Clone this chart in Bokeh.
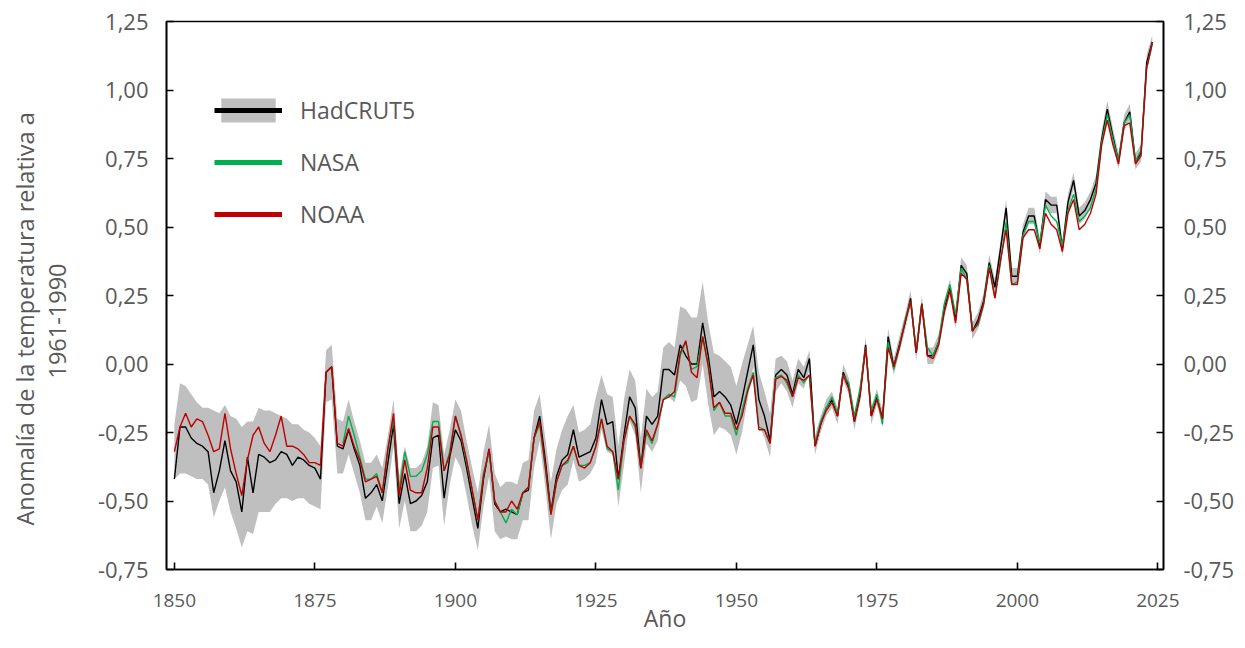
from bokeh.plotting import figure
from bokeh.models import (ColumnDataSource, Range1d, LinearAxis, FixedTicker,
                          CustomJSTickFormatter, Legend, LegendItem, Title)
from bokeh.embed import file_html
from bokeh.resources import INLINE

years = list(range(1850, 2025))

hadcrut5 = [
    -0.42, -0.23, -0.23, -0.27, -0.29, -0.30, -0.32, -0.47, -0.39, -0.28,
    -0.39, -0.43, -0.54, -0.34, -0.47, -0.33, -0.34, -0.36, -0.35, -0.32,
    -0.33, -0.37, -0.34, -0.35, -0.37, -0.38, -0.42, -0.03, -0.01, -0.30,
    -0.31, -0.24, -0.31, -0.37, -0.49, -0.47, -0.44, -0.50, -0.36, -0.22,
    -0.51, -0.40, -0.51, -0.50, -0.48, -0.43, -0.27, -0.26, -0.49, -0.34,
    -0.24, -0.28, -0.38, -0.49, -0.60, -0.42, -0.31, -0.51, -0.54, -0.53,
    -0.54, -0.55, -0.47, -0.46, -0.27, -0.19, -0.35, -0.54, -0.41, -0.35,
    -0.33, -0.24, -0.34, -0.33, -0.32, -0.27, -0.13, -0.22, -0.21, -0.42,
    -0.26, -0.12, -0.16, -0.38, -0.19, -0.22, -0.19, -0.02, -0.02, -0.04,
    0.07, 0.03, 0.00, 0.00, 0.15, 0.03, -0.12, -0.10, -0.12, -0.15,
    -0.22, -0.13, -0.03, 0.07, -0.13, -0.19, -0.28, -0.04, -0.02, -0.04,
    -0.11, -0.02, -0.05, 0.02, -0.30, -0.22, -0.16, -0.13, -0.19, -0.03,
    -0.08, -0.21, -0.11, 0.07, -0.19, -0.12, -0.20, 0.10, -0.01, 0.07,
    0.15, 0.24, 0.04, 0.22, 0.03, 0.03, 0.08, 0.20, 0.28, 0.16,
    0.36, 0.33, 0.12, 0.16, 0.23, 0.37, 0.28, 0.42, 0.57, 0.32,
    0.32, 0.48, 0.54, 0.54, 0.43, 0.60, 0.58, 0.58, 0.42, 0.59,
    0.67, 0.54, 0.56, 0.60, 0.66, 0.82, 0.93, 0.83, 0.74, 0.88,
    0.92, 0.74, 0.77, 1.10, 1.175,
]

hadcrut5_upper = [
    -0.22, -0.07, -0.08, -0.11, -0.14, -0.16, -0.16, -0.17, -0.18, -0.15,
    -0.19, -0.20, -0.23, -0.21, -0.21, -0.16, -0.17, -0.17, -0.18, -0.19,
    -0.20, -0.22, -0.22, -0.24, -0.25, -0.27, -0.30, 0.05, 0.07, -0.20,
    -0.21, -0.13, -0.21, -0.28, -0.36, -0.36, -0.33, -0.38, -0.26, -0.13,
    -0.41, -0.30, -0.38, -0.38, -0.36, -0.30, -0.14, -0.15, -0.33, -0.24,
    -0.13, -0.17, -0.28, -0.38, -0.47, -0.32, -0.22, -0.40, -0.45, -0.43,
    -0.43, -0.44, -0.36, -0.35, -0.17, -0.11, -0.27, -0.43, -0.31, -0.24,
    -0.19, -0.15, -0.25, -0.24, -0.22, -0.12, -0.04, -0.11, -0.12, -0.30,
    -0.13, -0.02, -0.06, -0.27, -0.09, -0.12, -0.10, 0.06, 0.08, 0.06,
    0.21, 0.20, 0.17, 0.17, 0.30, 0.15, 0.04, 0.03, 0.01, -0.01,
    -0.08, 0.00, 0.07, 0.14, -0.03, -0.10, -0.18, 0.02, 0.03, 0.01,
    -0.06, 0.02, -0.01, 0.05, -0.26, -0.19, -0.13, -0.10, -0.16, 0.00,
    -0.05, -0.18, -0.08, 0.10, -0.16, -0.09, -0.17, 0.13, 0.02, 0.10,
    0.18, 0.27, 0.07, 0.25, 0.06, 0.06, 0.11, 0.23, 0.31, 0.19,
    0.39, 0.36, 0.15, 0.19, 0.26, 0.40, 0.31, 0.45, 0.60, 0.35,
    0.35, 0.51, 0.57, 0.57, 0.46, 0.63, 0.61, 0.61, 0.45, 0.62,
    0.70, 0.57, 0.59, 0.63, 0.69, 0.85, 0.96, 0.86, 0.77, 0.91,
    0.95, 0.77, 0.80, 1.13, 1.20,
]

hadcrut5_lower = [
    -0.42, -0.40, -0.40, -0.41, -0.42, -0.42, -0.44, -0.56, -0.50, -0.45,
    -0.54, -0.60, -0.67, -0.61, -0.62, -0.54, -0.54, -0.54, -0.51, -0.49,
    -0.49, -0.50, -0.49, -0.49, -0.51, -0.52, -0.53, -0.14, -0.13, -0.40,
    -0.40, -0.33, -0.40, -0.47, -0.57, -0.57, -0.52, -0.58, -0.45, -0.30,
    -0.60, -0.50, -0.61, -0.61, -0.59, -0.54, -0.38, -0.37, -0.59, -0.44,
    -0.34, -0.38, -0.48, -0.59, -0.68, -0.52, -0.41, -0.61, -0.64, -0.63,
    -0.64, -0.64, -0.57, -0.57, -0.38, -0.28, -0.45, -0.64, -0.51, -0.46,
    -0.44, -0.35, -0.43, -0.42, -0.40, -0.36, -0.24, -0.32, -0.33, -0.52,
    -0.37, -0.21, -0.26, -0.47, -0.29, -0.32, -0.28, -0.13, -0.12, -0.14,
    -0.06, -0.08, -0.14, -0.13, 0.00, -0.15, -0.26, -0.23, -0.24, -0.26,
    -0.33, -0.25, -0.13, -0.01, -0.22, -0.27, -0.34, -0.10, -0.07, -0.10,
    -0.16, -0.07, -0.09, -0.02, -0.33, -0.25, -0.19, -0.16, -0.22, -0.06,
    -0.11, -0.24, -0.14, 0.04, -0.22, -0.15, -0.23, 0.07, -0.04, 0.04,
    0.12, 0.21, 0.01, 0.19, 0.00, 0.00, 0.05, 0.17, 0.25, 0.13,
    0.33, 0.30, 0.09, 0.13, 0.20, 0.34, 0.25, 0.39, 0.54, 0.29,
    0.29, 0.45, 0.51, 0.51, 0.40, 0.57, 0.55, 0.55, 0.39, 0.56,
    0.64, 0.51, 0.53, 0.57, 0.63, 0.79, 0.90, 0.80, 0.71, 0.85,
    0.89, 0.71, 0.74, 1.07, 1.15,
]

nasa_years = list(range(1880, 2025))
nasa = [
    -0.29, -0.19, -0.26, -0.34, -0.42, -0.42, -0.40, -0.47, -0.31, -0.20,
    -0.46, -0.32, -0.41, -0.41, -0.39, -0.33, -0.21, -0.21, -0.39, -0.32,
    -0.19, -0.26, -0.36, -0.46, -0.57, -0.40, -0.32, -0.50, -0.54, -0.58,
    -0.53, -0.55, -0.47, -0.45, -0.27, -0.22, -0.38, -0.55, -0.43, -0.37,
    -0.36, -0.30, -0.37, -0.37, -0.36, -0.30, -0.20, -0.31, -0.32, -0.46,
    -0.28, -0.19, -0.23, -0.38, -0.25, -0.29, -0.22, -0.13, -0.11, -0.12,
    0.03, 0.08, -0.02, -0.01, 0.10, 0.00, -0.17, -0.14, -0.19, -0.19,
    -0.26, -0.17, -0.09, -0.03, -0.23, -0.24, -0.29, -0.05, -0.04, -0.07,
    -0.12, -0.04, -0.07, -0.04, -0.29, -0.21, -0.16, -0.12, -0.18, -0.04,
    -0.07, -0.19, -0.09, 0.06, -0.17, -0.11, -0.22, 0.08, -0.02, 0.06,
    0.16, 0.23, 0.05, 0.22, 0.06, 0.03, 0.08, 0.22, 0.29, 0.18,
    0.35, 0.31, 0.13, 0.14, 0.22, 0.36, 0.24, 0.37, 0.52, 0.29,
    0.30, 0.47, 0.52, 0.52, 0.44, 0.58, 0.54, 0.52, 0.43, 0.56,
    0.62, 0.52, 0.54, 0.57, 0.64, 0.81, 0.91, 0.82, 0.74, 0.88,
    0.91, 0.74, 0.78, 1.08, 1.17,
]

noaa = [
    -0.32, -0.23, -0.18, -0.23, -0.20, -0.21, -0.26, -0.32, -0.31, -0.18,
    -0.31, -0.40, -0.48, -0.35, -0.26, -0.23, -0.29, -0.32, -0.26, -0.19,
    -0.30, -0.30, -0.31, -0.33, -0.36, -0.36, -0.37, -0.03, -0.01, -0.29,
    -0.30, -0.235, -0.30, -0.35, -0.43, -0.42, -0.41, -0.47, -0.31, -0.18,
    -0.48, -0.35, -0.46, -0.47, -0.47, -0.38, -0.23, -0.23, -0.39, -0.33,
    -0.19, -0.26, -0.35, -0.46, -0.57, -0.41, -0.31, -0.50, -0.54, -0.54,
    -0.50, -0.53, -0.47, -0.45, -0.27, -0.21, -0.37, -0.55, -0.43, -0.37,
    -0.35, -0.30, -0.37, -0.38, -0.36, -0.30, -0.20, -0.30, -0.32, -0.42,
    -0.28, -0.19, -0.22, -0.38, -0.24, -0.28, -0.22, -0.13, -0.12, -0.10,
    0.04, 0.085, -0.03, -0.05, 0.10, -0.01, -0.16, -0.14, -0.18, -0.18,
    -0.24, -0.19, -0.10, -0.04, -0.24, -0.24, -0.29, -0.055, -0.045, -0.06,
    -0.12, -0.05, -0.06, -0.04, -0.30, -0.22, -0.17, -0.14, -0.19, -0.04,
    -0.09, -0.21, -0.12, 0.06, -0.19, -0.13, -0.20, 0.06, -0.01, 0.06,
    0.15, 0.23, 0.04, 0.22, 0.03, 0.02, 0.07, 0.19, 0.27, 0.15,
    0.33, 0.31, 0.12, 0.15, 0.22, 0.35, 0.24, 0.38, 0.49, 0.29,
    0.29, 0.46, 0.49, 0.49, 0.42, 0.55, 0.51, 0.49, 0.41, 0.55,
    0.60, 0.49, 0.51, 0.55, 0.62, 0.80, 0.89, 0.80, 0.73, 0.87,
    0.88, 0.73, 0.76, 1.08, 1.17,
]

x_ticks = [1850, 1875, 1900, 1925, 1950, 1975, 2000, 2025]
y_ticks = [-0.75, -0.5, -0.25, 0.0, 0.25, 0.5, 0.75, 1.0, 1.25]

FONT = "Open Sans"
GREY_TXT = "#595959"
BLACK = "#000000"
GREEN = "#00b050"
RED = "#c00000"
BAND = "#bfbfbf"

src = ColumnDataSource(dict(year=years, had=hadcrut5, lo=hadcrut5_lower,
                            hi=hadcrut5_upper, noaa=noaa))
src_nasa = ColumnDataSource(dict(year=nasa_years, nasa=nasa))

p = figure(frame_width=997, frame_height=548, output_backend="svg",
           toolbar_location=None,
           x_range=Range1d(1848.6, 2026.0), y_range=Range1d(-0.75, 1.25),
           min_border_left=166, min_border_right=70, min_border_top=21,
           min_border_bottom=71, x_axis_label="Año")
p.background_fill_color = "white"
p.border_fill_color = "white"
p.outline_line_color = BLACK
p.outline_line_width = 1.6
p.xgrid.visible = False
p.ygrid.visible = False

band = p.varea(x="year", y1="lo", y2="hi", source=src, fill_color=BAND,
               fill_alpha=1.0)
l_had = p.line("year", "had", source=src, line_color=BLACK, line_width=1.4)
l_nasa = p.line("year", "nasa", source=src_nasa, line_color=GREEN, line_width=1.4)
l_noaa = p.line("year", "noaa", source=src, line_color=RED, line_width=1.4)

# legend-only renderers: hidden copies (legend swatches with thick strokes)
lg_band = p.varea(x="year", y1="lo", y2="hi", source=src, fill_color=BAND,
                  visible=False)
lg_had = p.line("year", "had", source=src, line_color=BLACK, line_width=5,
                visible=False)
lg_nasa = p.line("year", "nasa", source=src_nasa, line_color=GREEN,
                 line_width=5, visible=False)
lg_noaa = p.line("year", "noaa", source=src, line_color=RED, line_width=5,
                 visible=False)

legend = Legend(items=[
    LegendItem(label="HadCRUT5", renderers=[lg_band, lg_had]),
    LegendItem(label="NASA", renderers=[lg_nasa]),
    LegendItem(label="NOAA", renderers=[lg_noaa]),
], location=(48, 339))
legend.click_policy = "none"
legend.glyph_width = 68
legend.glyph_height = 30
legend.label_height = 30
legend.spacing = 20
legend.padding = 0
legend.margin = 0
legend.label_standoff = 18
legend.label_text_font = FONT
legend.label_text_font_size = "23px"
legend.label_text_color = GREY_TXT
legend.border_line_color = None
legend.background_fill_alpha = 0
p.add_layout(legend, "center")

fmt = CustomJSTickFormatter(code="return tick.toFixed(2).replace('.', ',');")

def style_axis(ax, label_size):
    ax.axis_line_color = BLACK
    ax.axis_line_width = 1.6
    ax.major_tick_line_color = BLACK
    ax.major_tick_line_width = 1.6
    ax.major_tick_in = 7
    ax.major_tick_out = 0
    ax.minor_tick_line_color = None
    ax.major_label_text_font = FONT
    ax.major_label_text_font_size = label_size
    ax.major_label_text_color = GREY_TXT
    ax.axis_label_text_font = FONT
    ax.axis_label_text_font_size = "23px"
    ax.axis_label_text_color = GREY_TXT
    ax.axis_label_text_font_style = "normal"

xa = p.xaxis[0]
style_axis(xa, "19px")
xa.ticker = FixedTicker(ticks=x_ticks)
xa.major_label_standoff = 24
xa.axis_label_standoff = -8

ya = p.yaxis[0]
style_axis(ya, "22px")
ya.ticker = FixedTicker(ticks=y_ticks)
ya.formatter = fmt
ya.major_label_standoff = 18

yr = LinearAxis(ticker=FixedTicker(ticks=y_ticks), formatter=fmt)
style_axis(yr, "22px")
yr.major_label_standoff = 20
p.add_layout(yr, "right")

# two-line y-axis title: spacer, inner line, outer line (inside -> outside)
t_spacer = Title(text=" ", align="left", standoff=19, text_font=FONT,
                 text_font_size="1px", text_color="white")
p.add_layout(t_spacer, "left")
t_inner = Title(text="1961-1990", align="left", offset=191, standoff=13,
                text_font=FONT, text_font_size="23.5px",
                text_font_style="normal", text_color=GREY_TXT)
p.add_layout(t_inner, "left")
t_outer = Title(text="Anomalía de la temperatura relativa a", align="left",
                offset=44, standoff=0, text_font=FONT, text_font_size="23.5px",
                text_font_style="normal", text_color=GREY_TXT)
p.add_layout(t_outer, "left")

open("out.html", "w").write(file_html(p, INLINE))
